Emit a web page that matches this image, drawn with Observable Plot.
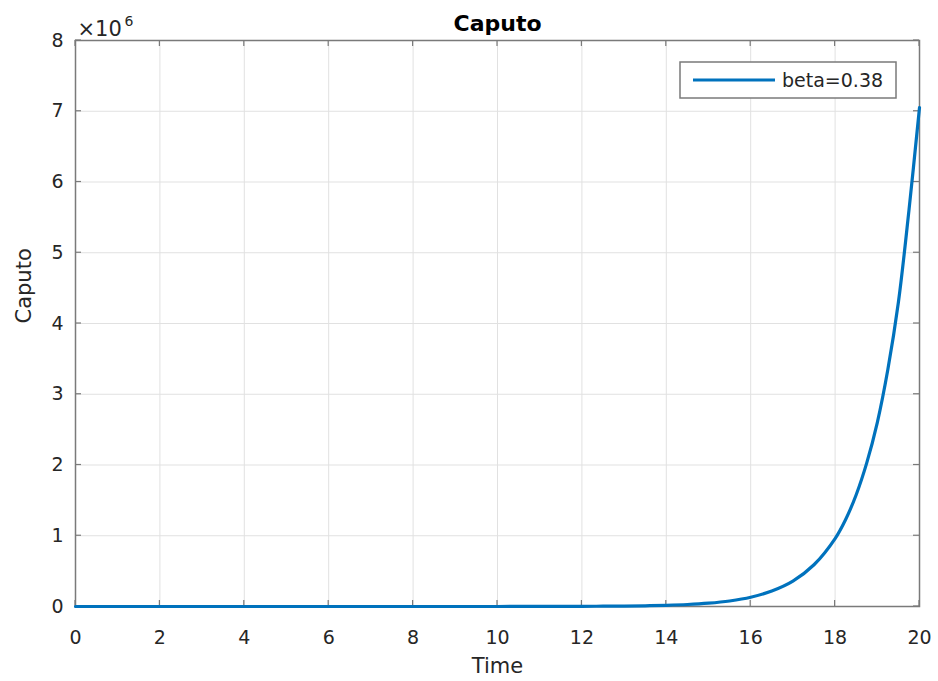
<!DOCTYPE html>
<html>
<head>
<meta charset="utf-8">
<script src="https://cdn.jsdelivr.net/npm/d3@7"></script>
<script src="https://cdn.jsdelivr.net/npm/@observablehq/plot@0.6"></script>
<style>
  body { margin: 0; background: #fff; }
  #chart svg { display: block; }
</style>
</head>
<body>
<div id="chart"></div>
<script>
// Solution of the Caputo fractional model, beta = 0.38
const time   = [0, 1, 2, 3, 4, 5, 6, 7, 8, 9, 10, 11, 12, 12.5, 13, 13.5, 14, 14.5, 15, 15.5,
                16, 16.5, 17, 17.5, 18, 18.25, 18.5, 18.75, 19, 19.25, 19.5, 19.75, 20];
const caputo = [0, 0, 0, 0, 0, 0, 0, 0, 40, 100, 300, 900, 2400, 3900, 6400, 10000, 17000, 28000,
                47000, 78000, 130000, 220000, 360000, 590000, 960000, 1230000, 1580000, 2030000,
                2600000, 3350000, 4300000, 5600000, 7050000];
const xTicks = [0, 2, 4, 6, 8, 10, 12, 14, 16, 18, 20];
const yTicks = [0, 1e6, 2e6, 3e6, 4e6, 5e6, 6e6, 7e6, 8e6];
const seriesName = "beta=0.38";
const titleText = "Caputo";
const xLabel = "Time";
const yLabel = "Caputo";

const data = time.map((t, i) => ({t, v: caputo[i]}));

const font = "'DejaVu Sans', sans-serif";
const lineColor = "#0072BD";
const axisColor = "#7a7a7a";
const gridColor = "#e1e1e1";
const textColor = "#262626";

const chart = Plot.plot({
  width: 938,
  height: 681,
  marginLeft: 75,
  marginRight: 19,
  marginTop: 40,
  marginBottom: 75,
  style: {fontFamily: font, background: "#fff", color: textColor},
  x: {domain: [0, 20]},
  y: {domain: [0, 8e6]},
  marks: [
    Plot.gridX(xTicks, {stroke: gridColor, strokeOpacity: 1}),
    Plot.gridY(yTicks, {stroke: gridColor, strokeOpacity: 1}),
    Plot.frame({stroke: axisColor, strokeWidth: 1.5}),
    // tick labels
    Plot.axisX(xTicks, {anchor: "bottom", tickSize: 0, tickPadding: 24, fontSize: 19, fill: textColor, label: null}),
    Plot.axisY(yTicks, {anchor: "left", tickSize: 0, tickPadding: 12, fontSize: 19, fill: textColor, label: null,
                        tickFormat: d => d / 1e6}),
    Plot.line(data, {x: "t", y: "v", stroke: lineColor, strokeWidth: 3.2, curve: "catmull-rom"}),
    // exponent, title and axis titles
    Plot.text(["\u00d710"], {frameAnchor: "top-left", textAnchor: "start", lineAnchor: "bottom", dx: 2, dy: -5,
                             fontSize: 21, fill: textColor}),
    Plot.text(["6"], {frameAnchor: "top-left", textAnchor: "start", lineAnchor: "bottom", dx: 49, dy: -15,
                      fontSize: 14, fill: textColor}),
    Plot.text([titleText], {frameAnchor: "top", lineAnchor: "bottom", dy: -10, fontSize: 22, fontWeight: "bold",
                            fill: "#000"}),
    Plot.text([xLabel], {frameAnchor: "bottom", lineAnchor: "bottom", dy: 66, fontSize: 21, fill: textColor}),
    Plot.text([yLabel], {frameAnchor: "left", rotate: -90, lineAnchor: "top", dx: -59, fontSize: 21, fill: textColor})
  ]
});

document.getElementById("chart").appendChild(chart);

const sx = chart.scale("x"), sy = chart.scale("y");
const [frameLeft, frameRight] = sx.range;
const [frameBottom, frameTop] = sy.range;
const svg = d3.select(chart);
const xPos = d3.scaleLinear(sx.domain, sx.range);
const yPos = d3.scaleLinear(sy.domain, sy.range);

// inward tick marks on all four sides of the axes box
const tickLen = 6;
const ticks = svg.insert("g", "g[aria-label='line']")
  .attr("stroke", axisColor).attr("stroke-width", 1.2);
for (const t of xTicks) {
  const px = xPos(t);
  ticks.append("line").attr("x1", px).attr("x2", px).attr("y1", frameBottom).attr("y2", frameBottom - tickLen);
  ticks.append("line").attr("x1", px).attr("x2", px).attr("y1", frameTop).attr("y2", frameTop + tickLen);
}
for (const v of yTicks) {
  const py = yPos(v);
  ticks.append("line").attr("y1", py).attr("y2", py).attr("x1", frameLeft).attr("x2", frameLeft + tickLen);
  ticks.append("line").attr("y1", py).attr("y2", py).attr("x1", frameRight).attr("x2", frameRight - tickLen);
}

// legend box in the upper-right corner of the axes
const boxW = 216, boxH = 36;
const lg = svg.append("g").attr("transform", `translate(${frameRight - 23 - boxW},${frameTop + 22})`);
lg.append("rect").attr("width", boxW).attr("height", boxH)
  .attr("fill", "#fff").attr("stroke", axisColor).attr("stroke-width", 1.5);
lg.append("line").attr("x1", 13).attr("x2", 95).attr("y1", boxH / 2).attr("y2", boxH / 2)
  .attr("stroke", lineColor).attr("stroke-width", 3.2);
lg.append("text").attr("x", 102).attr("y", boxH / 2).attr("dy", "0.35em").attr("text-anchor", "start")
  .attr("font-family", font).attr("font-size", 19).attr("fill", textColor).text(seriesName);
</script>
</body>
</html>
